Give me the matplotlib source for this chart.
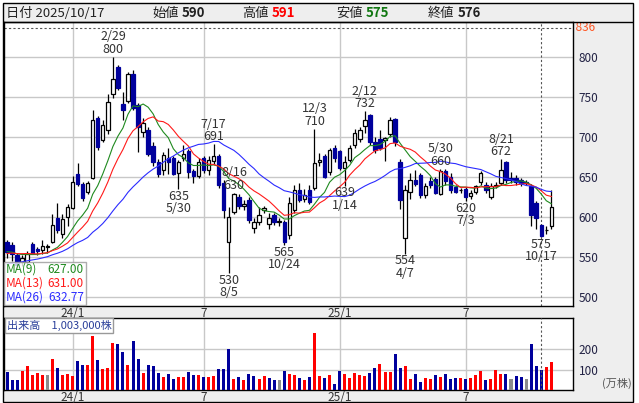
import numpy as np
import pandas as pd
import matplotlib
matplotlib.use('Agg')
import matplotlib.pyplot as plt
from matplotlib.patches import Rectangle

plt.rcParams['font.family'] = ['Noto Sans CJK JP', 'DejaVu Sans']

# weekly candles, first week starts 2023-10-02 (Mon)
first_week = '2023-10-02'
opens = [568, 565, 552, 544, 544, 566, 560, 558, 562, 569, 599, 578, 600, 611, 653, 641, 631, 649, 723, 696,
         708, 753, 787, 741, 745, 778, 740, 706, 708, 688, 669, 658, 673, 673, 655, 673, 682, 657, 651, 674,
         658, 670, 676, 642, 568, 606, 625, 613, 621, 586, 594, 609, 591, 602, 594, 594, 577, 608, 633, 622,
         633, 636, 669, 676, 656, 686, 682, 661, 671, 690, 697, 713, 727, 694, 697, 696, 704, 722, 669, 573,
         631, 646, 652, 627, 645, 647, 629, 657, 650, 637, 633, 635, 626, 631, 643, 640, 625, 639, 642, 668,
         648, 649, 646, 644, 638, 617, 590, 583, 588]
highs = [571, 568, 555, 552, 557, 568, 562, 571, 566, 604, 617, 604, 616, 651, 667, 643, 645, 733, 726, 721,
         754, 800, 790, 756, 781, 784, 742, 724, 712, 693, 672, 681, 686, 676, 671, 690, 685, 660, 673, 676,
         676, 691, 678, 646, 612, 630, 628, 621, 625, 598, 612, 614, 605, 605, 598, 596, 625, 640, 642, 635,
         640, 710, 680, 678, 686, 690, 684, 676, 690, 710, 712, 732, 729, 700, 708, 700, 725, 724, 672, 640,
         655, 658, 655, 642, 650, 650, 660, 660, 655, 640, 636, 637, 633, 640, 657, 643, 642, 643, 672, 670,
         656, 652, 648, 646, 641, 620, 591, 588, 634]
lows = [548, 545, 535, 538, 540, 553, 552, 553, 555, 567, 580, 573, 588, 610, 638, 620, 629, 647, 684, 694,
        703, 748, 758, 721, 742, 734, 681, 700, 676, 664, 650, 652, 654, 652, 635, 670, 648, 642, 648, 655,
        652, 666, 636, 598, 530, 604, 610, 608, 592, 580, 590, 605, 585, 590, 589, 565, 572, 605, 619, 618,
        616, 634, 663, 648, 652, 668, 658, 639, 668, 686, 693, 705, 690, 680, 684, 670, 700, 688, 610, 554,
        622, 638, 624, 624, 636, 628, 627, 640, 630, 630, 630, 620, 622, 628, 640, 630, 622, 636, 640, 642,
        642, 640, 639, 640, 588, 585, 575, 579, 585]
closes = [556, 553, 540, 548, 554, 555, 557, 564, 564, 590, 583, 597, 612, 644, 641, 623, 642, 721, 687, 715,
          744, 772, 761, 733, 778, 736, 712, 717, 679, 668, 653, 677, 669, 654, 669, 679, 656, 651, 669, 658,
          671, 676, 640, 608, 600, 628, 613, 616, 596, 594, 602, 611, 598, 594, 594, 569, 617, 633, 621, 627,
          619, 667, 671, 650, 683, 674, 661, 668, 686, 705, 708, 721, 694, 683, 686, 698, 721, 694, 621, 633,
          646, 641, 627, 639, 640, 630, 657, 645, 633, 631, 633, 625, 630, 638, 655, 633, 638, 640, 659, 646,
          646, 644, 642, 642, 602, 598, 576, 584, 612]
# closes of the 25 weeks before the first candle (estimated from where the MA lines start)
closes_before = [525, 520, 518, 522, 528, 530, 526, 524, 528, 532, 535, 530, 538,
                 545, 550, 548, 552, 558, 560, 555, 553, 557, 556, 552, 560]
# volume in 万株
volumes = [88, 47, 47, 92, 117, 72, 83, 72, 72, 155, 108, 72, 77, 67, 142, 122, 122, 267, 147, 102,
           110, 233, 227, 188, 122, 242, 155, 83, 122, 117, 83, 63, 77, 55, 63, 63, 87, 72, 72, 63,
           63, 67, 102, 102, 202, 52, 63, 47, 77, 68, 52, 67, 58, 47, 47, 92, 77, 72, 58, 47,
           63, 283, 67, 58, 72, 30, 92, 80, 58, 83, 72, 68, 83, 110, 127, 88, 88, 177, 108, 117,
           52, 77, 38, 58, 52, 72, 63, 77, 52, 58, 58, 52, 58, 72, 92, 50, 55, 97, 80, 77,
           52, 67, 63, 52, 227, 117, 100.3, 113, 138]

month_weeks = ['2024-01-01', '2024-07-01', '2025-01-06', '2025-06-30']
month_labels = ['24/1', '7', '25/1', '7']

# (date of extreme, kind, week)
marks = [('2/29', 'high', '2024-02-26'), ('5/30', 'low', '2024-05-27'), ('7/17', 'high', '2024-07-15'),
         ('8/5', 'low', '2024-08-05'), ('8/16', 'high', '2024-08-12'), ('10/24', 'low', '2024-10-21'),
         ('12/3', 'high', '2024-12-02'), ('1/14', 'low', '2025-01-13'), ('2/12', 'high', '2025-02-10'),
         ('4/7', 'low', '2025-04-07'), ('5/30', 'high', '2025-05-26'), ('7/3', 'low', '2025-06-30'),
         ('8/21', 'high', '2025-08-18'), ('10/17', 'low', '2025-10-13')]

cursor_week = '2025-10-13'
cursor_label = '2025/10/17'
ma_periods = [9, 13, 26]
ma_values_text = ['627.00', '631.00', '632.77']
y_top = 836

weeks = pd.date_range(first_week, periods=len(closes), freq='W-MON')
wk = {d.strftime('%Y-%m-%d'): i for i, d in enumerate(weeks)}
x = np.arange(len(closes))
o, h, l, c = (np.array(a, dtype=float) for a in (opens, highs, lows, closes))
cur = wk[cursor_week]

W, H = 639, 403
fig = plt.figure(figsize=(W / 100, H / 100), dpi=100, facecolor='white')


def fbox(left, top, right, bottom):
    return [left / W, 1 - bottom / H, (right - left) / W, (bottom - top) / H]


def fx(px):
    return px / W


def fy(py):
    return 1 - py / H


# grey background of the whole widget
fig.add_artist(Rectangle((fx(3), fy(402)), fx(633) - fx(3), fy(3) - fy(402), transform=fig.transFigure,
                         facecolor='#eeeeee', edgecolor='black', lw=1, zorder=0))
fig.add_artist(Rectangle((fx(3), fy(22)), fx(633) - fx(3), 0, transform=fig.transFigure,
                         facecolor='none', edgecolor='black', lw=1))

navy = '#00009c'
ma_colors = ['#1f8a1f', '#ff1a1a', '#2b2bff']
grid_c = '#c8c8c8'
month_x = [wk[m] for m in month_weeks]

# ---- price panel
ax = fig.add_axes(fbox(4, 22, 573, 306))
ax.set_facecolor('white')
ax.set_xlim(-0.6, 112.3)
ax.set_ylim(488.4, 843.4)
for yv in range(500, 801, 50):
    ax.axhline(yv, color=grid_c, lw=1, zorder=1)
for mx in month_x:
    ax.axvline(mx, color=grid_c, lw=1, zorder=1)
ax.axhline(y_top, color='#555555', lw=0.8, ls=(0, (2, 2)), zorder=1)
ax.axvline(cur, color='#555555', lw=0.8, ls=(0, (2, 2)), zorder=2)

all_closes = pd.Series(closes_before + closes, dtype=float)
for p, col in zip(ma_periods, ma_colors):
    ma = all_closes.rolling(p, min_periods=1).mean().to_numpy()[len(closes_before):]
    ax.plot(x, ma, color=col, lw=0.8, zorder=5)

up = c >= o
bot = np.minimum(o, c)
bh = np.maximum(np.abs(c - o), 0.8)
ax.vlines(x, l, h, color='black', lw=0.9, zorder=3)
ax.bar(x[up], bh[up], bottom=bot[up], width=0.68, facecolor='white', edgecolor='black', lw=0.9, zorder=4)
ax.bar(x[~up], bh[~up], bottom=bot[~up], width=0.68, facecolor=navy, edgecolor=navy, lw=0.9, zorder=4)

for date_txt, kind, week in marks:
    i = wk[week]
    if kind == 'high':
        ax.text(i, h[i] + 1, f'{date_txt}\n{int(h[i])}', ha='center', va='bottom', fontsize=9,
                color='#333333', linespacing=0.95, zorder=6)
    else:
        ax.text(i, l[i] - 1, f'{int(l[i])}\n{date_txt}', ha='center', va='top', fontsize=9,
                color='#333333', linespacing=0.95, zorder=6)

ax.yaxis.tick_right()
ax.set_yticks(range(500, 801, 50))
ax.tick_params(axis='y', length=0, pad=4, labelsize=8.5, labelcolor='#222244')
ax.text(1.0, y_top, ' ' + str(y_top), transform=ax.get_yaxis_transform(), ha='left', va='center',
        fontsize=8.5, color='#ff5522')
ax.set_xticks(month_x)
ax.set_xticklabels(month_labels)
ax.tick_params(axis='x', length=0, pad=0.5, labelsize=8.5, labelcolor='#333333')
for s in ax.spines.values():
    s.set_color('black')
    s.set_linewidth(1)

# MA legend box
fig.add_artist(Rectangle((fx(4), fy(305)), fx(86) - fx(4), fy(262) - fy(305), transform=fig.transFigure,
                         facecolor='white', alpha=0.8, edgecolor='#999999', lw=1, zorder=7))
for k, (p, col, val) in enumerate(zip(ma_periods, ma_colors, ma_values_text)):
    yy = fy(269.5 + 14 * k)
    fig.text(fx(6), yy, f'MA({p})', color=col, fontsize=8.5, va='center', ha='left', zorder=8)
    fig.text(fx(84), yy, val, color=col, fontsize=8.5, va='center', ha='right', zorder=8)

# ---- volume panel
av = fig.add_axes(fbox(4, 318, 573, 390))
av.set_facecolor('white')
av.set_xlim(ax.get_xlim())
av.set_ylim(0, 355)
for yv in (100, 200):
    av.axhline(yv, color=grid_c, lw=1, zorder=1)
for mx in month_x:
    av.axvline(mx, color=grid_c, lw=1, zorder=1)
av.axvline(cur, color='#555555', lw=0.8, ls=(0, (2, 2)), zorder=4)
chg = np.diff(np.concatenate([[closes_before[-1]], c]))
vcol = np.where(chg > 0, '#ff0000', np.where(chg < 0, navy, '#8c8c8c'))
av.bar(x, volumes, width=0.6, color=vcol, zorder=3)
av.yaxis.tick_right()
av.set_yticks([100, 200])
av.tick_params(axis='y', length=0, pad=4, labelsize=8.5, labelcolor='#222244')
av.set_xticks(month_x)
av.set_xticklabels(month_labels)
av.tick_params(axis='x', length=0, pad=0.5, labelsize=8.5, labelcolor='#333333')
for s in av.spines.values():
    s.set_color('black')
    s.set_linewidth(1)
fig.text(fx(632), fy(383), '(万株)', ha='right', va='center', fontsize=8, color='#555555')
fig.text(fx(7), fy(325.5), f'出来高　{int(round(volumes[cur] * 10000)):,}株', ha='left', va='center',
         fontsize=8, color='#2a3f9a', zorder=8,
         bbox=dict(boxstyle='square,pad=0.15', facecolor='white', edgecolor='#999999', lw=1))

# ---- header
fig.text(fx(6), fy(13), f'日付 {cursor_label}', fontsize=9.5, va='center', ha='left', color='#222222')
head = [('始値', o[cur], '#222222', 152), ('高値', h[cur], '#ff0000', 242),
        ('安値', l[cur], '#117711', 336), ('終値', c[cur], '#222222', 428)]
for name, val, col, px in head:
    fig.text(fx(px), fy(13), name, fontsize=9.5, va='center', ha='left', color='#222222')
    fig.text(fx(px + 30), fy(13), f'{int(val)}', fontsize=9.5, va='center', ha='left', color=col,
             fontweight='bold')

fig.savefig('out.png', dpi=100, facecolor=fig.get_facecolor())
